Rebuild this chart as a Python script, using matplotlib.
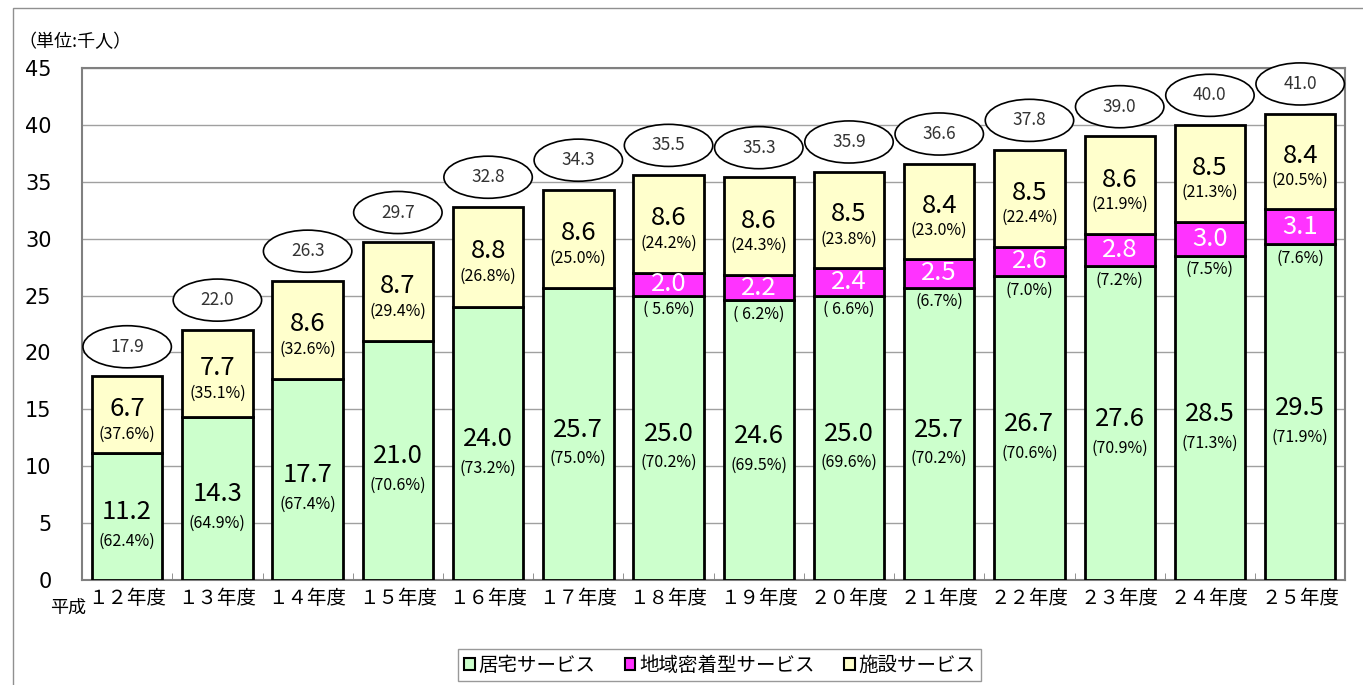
import matplotlib
matplotlib.use("Agg")
import matplotlib.pyplot as plt
from matplotlib.patches import Ellipse, Rectangle, Patch
import numpy as np

plt.rcParams['font.family'] = ['Noto Sans CJK JP', 'DejaVu Sans']

categories = ["１２年度", "１３年度", "１４年度", "１５年度", "１６年度", "１７年度", "１８年度",
              "１９年度", "２０年度", "２１年度", "２２年度", "２３年度", "２４年度", "２５年度"]
home = [11.2, 14.3, 17.7, 21.0, 24.0, 25.7, 25.0, 24.6, 25.0, 25.7, 26.7, 27.6, 28.5, 29.5]
community = [0, 0, 0, 0, 0, 0, 2.0, 2.2, 2.4, 2.5, 2.6, 2.8, 3.0, 3.1]
facility = [6.7, 7.7, 8.6, 8.7, 8.8, 8.6, 8.6, 8.6, 8.5, 8.4, 8.5, 8.6, 8.5, 8.4]
totals = [17.9, 22.0, 26.3, 29.7, 32.8, 34.3, 35.5, 35.3, 35.9, 36.6, 37.8, 39.0, 40.0, 41.0]
home_pct = ["(62.4%)", "(64.9%)", "(67.4%)", "(70.6%)", "(73.2%)", "(75.0%)", "(70.2%)",
            "(69.5%)", "(69.6%)", "(70.2%)", "(70.6%)", "(70.9%)", "(71.3%)", "(71.9%)"]
community_pct = ["", "", "", "", "", "", "( 5.6%)", "( 6.2%)", "( 6.6%)", "(6.7%)", "(7.0%)",
                 "(7.2%)", "(7.5%)", "(7.6%)"]
facility_pct = ["(37.6%)", "(35.1%)", "(32.6%)", "(29.4%)", "(26.8%)", "(25.0%)", "(24.2%)",
                "(24.3%)", "(23.8%)", "(23.0%)", "(22.4%)", "(21.9%)", "(21.3%)", "(20.5%)"]
legend_labels = ["居宅サービス", "地域密着型サービス", "施設サービス"]

c_home = '#CCFFCC'
c_comm = '#FF33FF'
c_fac = '#FFFFCC'

fig = plt.figure(figsize=(13.63, 6.85), dpi=100)
ax = fig.add_axes([0.0602, 0.1533, 0.9268, 0.7474])

# figure frame
fig.patches.append(Rectangle((13 / 1363, -0.01), 1.0, 1 - 8 / 685 + 0.01, transform=fig.transFigure,
                             fill=False, edgecolor='#909090', linewidth=1.0))

x = np.arange(len(categories))
w = 0.78
home = np.array(home); community = np.array(community); facility = np.array(facility)

ax.bar(x, home, w, color=c_home, edgecolor='black', linewidth=2, zorder=3)
for i in range(len(x)):
    if community[i] > 0:
        ax.bar(x[i], community[i], w, bottom=home[i], color=c_comm, edgecolor='black', linewidth=2, zorder=3)
ax.bar(x, facility, w, bottom=home + community, color=c_fac, edgecolor='black', linewidth=2, zorder=3)

big = 18.5
small = 11.5
for i in range(len(x)):
    mid = home[i] / 2
    ax.annotate(f"{home[i]:.1f}", (x[i], mid), xytext=(0, 3), textcoords='offset points',
                ha='center', va='center', fontsize=big, zorder=5)
    ax.annotate(home_pct[i], (x[i], mid), xytext=(0, -18), textcoords='offset points',
                ha='center', va='center', fontsize=small, zorder=5)
    if community[i] > 0:
        cm = home[i] + community[i] / 2
        ax.annotate(f"{community[i]:.1f}", (x[i], cm), xytext=(0, 0), textcoords='offset points',
                    ha='center', va='center', fontsize=big, color='white', zorder=5)
        ax.annotate(community_pct[i], (x[i], home[i]), xytext=(0, -10), textcoords='offset points',
                    ha='center', va='center', fontsize=small, zorder=5)
    b = home[i] + community[i]
    fm = b + facility[i] / 2
    ax.annotate(f"{facility[i]:.1f}", (x[i], fm), xytext=(0, 4), textcoords='offset points',
                ha='center', va='center', fontsize=big, zorder=5)
    ax.annotate(facility_pct[i], (x[i], fm), xytext=(0, -14), textcoords='offset points',
                ha='center', va='center', fontsize=small, zorder=5)
    top = b + facility[i]
    cy = top + 2.6
    e = Ellipse((x[i], cy), 0.98, 3.7, facecolor='white', edgecolor='black', linewidth=1.2,
                zorder=4, clip_on=False)
    ax.add_patch(e)
    ax.text(x[i], cy, f"{totals[i]:.1f}", ha='center', va='center', fontsize=12.5,
            color='#333333', zorder=5, clip_on=False)

ax.set_xlim(-0.5, len(x) - 0.5)
ax.set_ylim(0, 45)
ax.set_yticks(np.arange(0, 46, 5))
ax.yaxis.grid(True, color='#a0a0a0', linewidth=1.0, zorder=0)
ax.set_axisbelow(True)
for s in ax.spines.values():
    s.set_color('#808080')
    s.set_linewidth(1.5)
ax.tick_params(axis='y', length=0, labelsize=15, pad=22)
for lab in ax.get_yticklabels():
    lab.set_fontfamily(['DejaVu Sans'])
ax.set_xticks(x)
ax.set_xticklabels(categories, fontsize=14)
ax.tick_params(axis='x', length=0, pad=6)
ax.set_xticks(np.arange(0.5, len(x) - 0.5, 1), minor=True)
ax.tick_params(axis='x', which='minor', direction='in', length=5, color='#808080')

fig.text(50 / 1363, 1 - 608 / 685, "平成", fontsize=13, ha='left', va='center')
fig.text(18 / 1363, 1 - 42 / 685, "（単位:千人）", fontsize=13, ha='left', va='center')

handles = [Patch(facecolor=c, edgecolor='black', linewidth=1.5) for c in (c_home, c_comm, c_fac)]
leg = fig.legend(handles, legend_labels, loc='center', bbox_to_anchor=(0.528, 0.029), ncol=3,
                 fontsize=14, frameon=True, fancybox=False, edgecolor='#808080',
                 handlelength=0.55, handleheight=0.55, handletextpad=0.2, columnspacing=1.5,
                 borderpad=0.3, borderaxespad=0)
leg.get_frame().set_linewidth(1.0)

fig.savefig("out.png", dpi=100)
